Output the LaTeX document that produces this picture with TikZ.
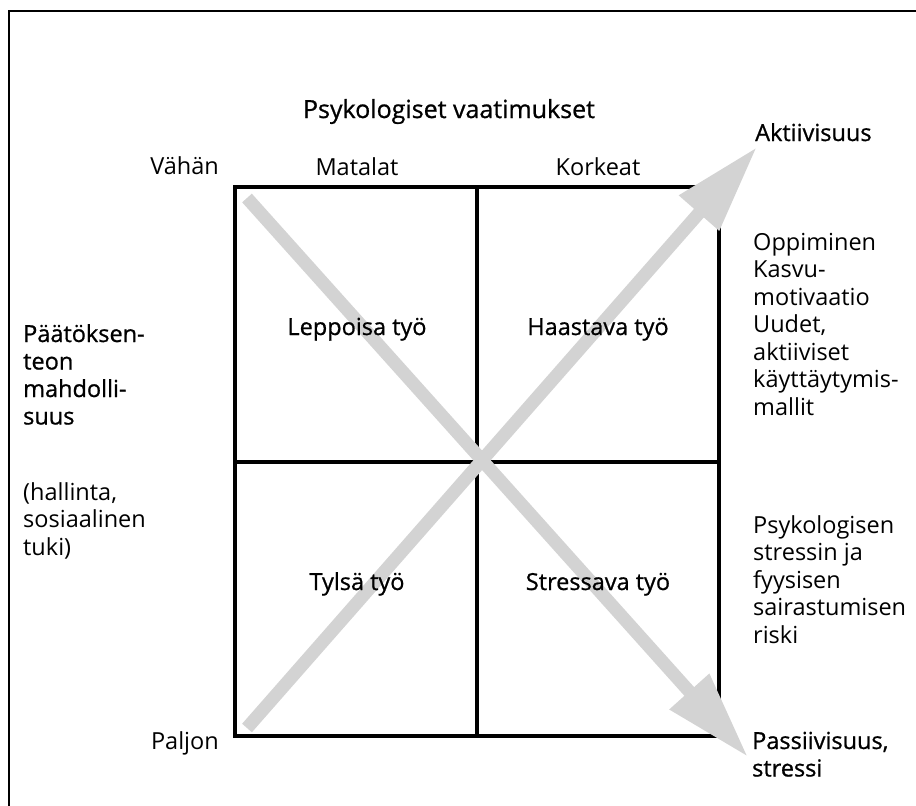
\documentclass[tikz,border=0pt]{standalone}
\usepackage{fontspec}
\setmainfont{Open Sans}
\newfontfamily\medfont[FakeBold=0.8]{Open Sans}
\usetikzlibrary{arrows.meta}
\newcommand\txtsize{\fontsize{23.5}{27.5}\selectfont}
\newcommand\blocktext[1]{\parbox[t]{170pt}{\raggedright\txtsize #1}}
\begin{document}
\begin{tikzpicture}[x=1pt,y=-1pt,
  label/.style={inner sep=0pt, font=\txtsize},
  head/.style={inner sep=0pt, font=\txtsize\medfont},
  gridline/.style={line width=4.5pt, line cap=rect},
  bigarrow/.style={line width=13pt, draw={rgb,255:red,211;green,211;blue,211},
    -{Triangle[length=88pt,width=50pt]}}]
\useasboundingbox (0,0) rectangle (916,806);
% outer frame (open towards right and bottom)
\draw[line width=2.5pt] (9,806) -- (9,11) -- (916,11);

% 2x2 grid
\coordinate (tl) at (235,187);
\coordinate (br) at (719,736);
\coordinate (mid) at (477,462);
\draw[gridline] (tl) rectangle (br);
\draw[gridline] (477,187) -- (477,736);
\draw[gridline] (235,462) -- (719,462);

% diagonal arrows
\coordinate (pstart) at (247,198);
\coordinate (ptip) at (748,757);
\coordinate (astart) at (247,728);
\coordinate (atip) at (757,147);
\draw[bigarrow] (pstart) -- (ptip);
\draw[bigarrow] (astart) -- (atip);

% axis texts
\node[head, anchor=base, font=\fontsize{25}{28}\selectfont\medfont] (title) at (449,118) {Psykologiset vaatimukset};
\node[label, anchor=base] (low) at (357,175) {Matalat};
\node[label, anchor=base] (high) at (598,175) {Korkeat};
\node[label, anchor=base east] (little) at (219,174) {Vähän};
\node[label, anchor=base east] (much) at (219,749) {Paljon};

% quadrants
\node[head, anchor=base] (q1) at (357,335) {Leppoisa työ};
\node[head, anchor=base] (q2) at (598,335) {Haastava työ};
\node[head, anchor=base] (q3) at (357,590) {Tylsä työ};
\node[head, anchor=base] (q4) at (598,590) {Stressava työ};

% left side
\node[inner sep=0pt, anchor=base west] (decision) at (23,342)
  {\blocktext{\medfont Päätöksen-\\teon\\mahdolli-\\suus}};
\node[inner sep=0pt, anchor=base west] (control) at (23,500)
  {\blocktext{(hallinta,\\sosiaalinen\\tuki)}};

% right side
\node[head, anchor=base west] (active) at (755,141) {Aktiivisuus};
\node[inner sep=0pt, anchor=base west] (learning) at (753,250)
  {\blocktext{Oppiminen\\Kasvu-\\motivaatio\\Uudet,\\aktiiviset\\käyttäytymis-\\mallit}};
\node[inner sep=0pt, anchor=base west] (risk) at (753,533)
  {\blocktext{Psykologisen\\stressin ja\\fyysisen\\sairastumisen\\riski}};
\node[inner sep=0pt, anchor=base west] (passive) at (752,749)
  {\blocktext{\medfont Passiivisuus,\\stressi}};
\end{tikzpicture}
\end{document}
